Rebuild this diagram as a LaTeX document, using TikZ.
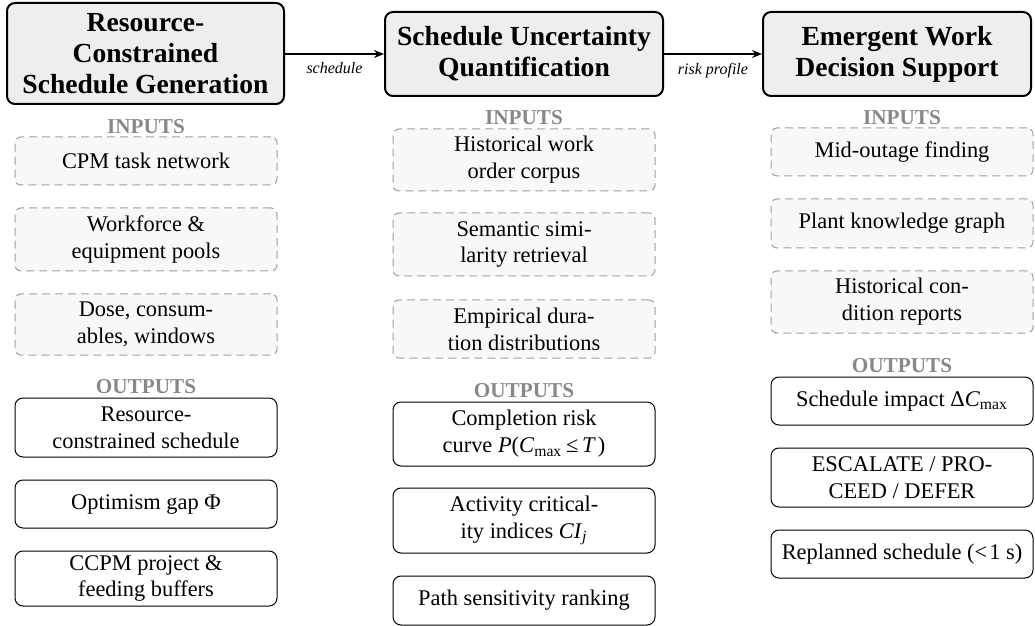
\documentclass[tikz,border=0pt]{standalone}
\usepackage{fontspec}
\setmainfont{Liberation Serif}
\usetikzlibrary{arrows.meta}
\definecolor{hdrfill}{HTML}{EEEEEE}
\definecolor{infill}{HTML}{F8F8F8}
\definecolor{indraw}{HTML}{A0A0A0}
\definecolor{secgray}{HTML}{888888}
\begin{document}
\begin{tikzpicture}[x=0.5pt,y=-0.5pt,
  hdr/.style={draw, line width=1pt, rounded corners=4pt, fill=hdrfill, align=center,
    font=\fontsize{13.8}{15.5}\selectfont\bfseries, inner sep=0pt},
  inbox/.style={draw=indraw, line width=0.5pt, dash pattern=on 4pt off 2.5pt, fill=infill,
    rounded corners=3pt, align=center, font=\fontsize{11.2}{13.4}\selectfont,
    inner sep=0pt, minimum width=131pt},
  outbox/.style={draw, line width=0.5pt, rounded corners=4pt, fill=white, align=center,
    font=\fontsize{11.2}{13.4}\selectfont, inner sep=0pt, minimum width=131pt},
  sec/.style={text=secgray, font=\fontsize{10.6}{12}\selectfont\bfseries, inner sep=0pt},
  lbl/.style={font=\fontsize{8}{9}\selectfont\itshape, inner sep=1pt},
  flow/.style={-{Stealth[length=5pt,width=4pt]}, line width=0.8pt}
]
\useasboundingbox (0,0) rectangle (1035,626);

% headers
\node[hdr, minimum width=138.5pt, minimum height=50.5pt] (h1) at (145.5,53.5)
  {Resource-\\Constrained\\Schedule Generation};
\node[hdr, minimum width=139pt, minimum height=42pt] (h2) at (524,54)
  {Schedule Uncertainty\\Quantification};
\node[hdr, minimum width=134pt, minimum height=42pt] (h3) at (897,54)
  {Emergent Work\\Decision Support};

\draw[flow] (h1.east |- h2.west) -- node[lbl, below=3pt] {schedule} (h2.west);
\draw[flow] (h2.east) -- node[lbl, below=3pt] {risk profile} (h3.west);

% column 1
\node[inbox, minimum height=24pt] (i11) at (146,161) {CPM task network};
\node[inbox, minimum height=31.5pt] (i12) at (146,239.5) {Workforce \&\\equipment pools};
\node[inbox, minimum height=30.5pt] (i13) at (146,324.5) {Dose, consum-\\ables, windows};
\node[outbox, minimum height=29.5pt] (o11) at (146,427.5) {Resource-\\constrained schedule};
\node[outbox, minimum height=24pt] (o12) at (146,504) {Optimism gap Φ};
\node[outbox, minimum height=27.5pt] (o13) at (146,578.5) {CCPM project \&\\feeding buffers};
\node[sec] (s11) at (146,127) {INPUTS};
\node[sec] (s12) at (146,387) {OUTPUTS};

% column 2
\node[inbox, minimum height=31pt] (i21) at (524,160) {Historical work\\order corpus};
\node[inbox, minimum height=31.5pt] (i22) at (524,244.5) {Semantic simi-\\larity retrieval};
\node[inbox, minimum height=29pt] (i23) at (524,329) {Empirical dura-\\tion distributions};
\node[outbox, minimum height=32pt] (o21) at (524,434)
  {Completion risk\\curve \textit{P}(\textit{C}\textsubscript{max}\,≤\,\textit{T}\kern1pt)};
\node[outbox, minimum height=32.5pt] (o22) at (524,520.5)
  {Activity critical-\\ity indices \textit{CI}\textsubscript{\textit{j}}};
\node[outbox, minimum height=24.5pt] (o23) at (524,600.5) {Path sensitivity ranking};
\node[sec] (s21) at (524,118) {INPUTS};
\node[sec] (s22) at (524,391) {OUTPUTS};

% column 3
\node[inbox, minimum height=24pt] (i31) at (902,152) {Mid-outage finding};
\node[inbox, minimum height=24.5pt] (i32) at (902,223.5) {Plant knowledge graph};
\node[inbox, minimum height=31pt] (i33) at (902,302) {Historical con-\\dition reports};
\node[outbox, minimum height=24pt] (o31) at (902,401) {Schedule impact Δ\textit{C}\textsubscript{max}};
\node[outbox, minimum height=29.5pt] (o32) at (902,477.5) {ESCALATE / PRO-\\CEED / DEFER};
\node[outbox, minimum height=24pt] (o33) at (902,554) {Replanned schedule (<\kern1pt1 s)};
\node[sec] (s31) at (902,118) {INPUTS};
\node[sec] (s32) at (902,366) {OUTPUTS};
\end{tikzpicture}
\end{document}
